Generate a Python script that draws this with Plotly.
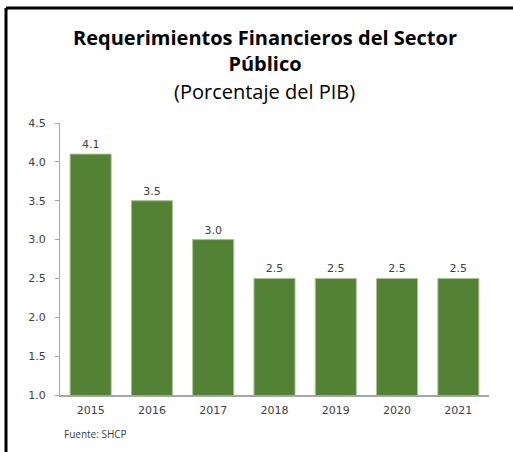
import plotly.graph_objects as go

# Requerimientos Financieros del Sector Público, % del PIB
years = ["2015", "2016", "2017", "2018", "2019", "2020", "2021"]
rfsp = [4.1, 3.5, 3.0, 2.5, 2.5, 2.5, 2.5]
y_ticks = [1.0, 1.5, 2.0, 2.5, 3.0, 3.5, 4.0, 4.5]

W, H = 513, 452
ML, MR, MT, MB = 60, 24, 123, 57
PW, PH = W - ML - MR, H - MT - MB


def px_x(px):
    return (px - ML) / PW


def px_y(py):
    return (H - MB - py) / PH


TITLE_FONT = "Open Sans"
TICK_FONT = "DejaVu Sans"
GREEN = "#548235"
GREY_TXT = "#404040"

fig = go.Figure(
    go.Bar(
        x=years,
        y=rfsp,
        marker=dict(color=GREEN, line=dict(color="#a9c196", width=1)),
        texttemplate="%{y:.1f}",
        textposition="outside",
        textfont=dict(family=TICK_FONT, size=11, color=GREY_TXT),
        cliponaxis=False,
    )
)

fig.update_layout(
    width=W,
    height=H,
    margin=dict(l=ML, r=MR, t=MT, b=MB),
    paper_bgcolor="white",
    plot_bgcolor="white",
    bargap=0.33,
    showlegend=False,
    font=dict(family=TICK_FONT, color=GREY_TXT),
    xaxis=dict(
        showline=True,
        linecolor="#a6a6a6",
        linewidth=2,
        ticks="",
        showgrid=False,
        tickfont=dict(family=TICK_FONT, size=11, color=GREY_TXT),
        ticklabelstandoff=4,
    ),
    yaxis=dict(
        range=[1.0, 4.5],
        tickvals=y_ticks,
        ticktext=[f"{v:.1f}" for v in y_ticks],
        showline=True,
        linecolor="#a6a6a6",
        linewidth=1,
        ticks="outside",
        ticklen=4,
        tickcolor="#a6a6a6",
        showgrid=False,
        zeroline=False,
        tickfont=dict(family=TICK_FONT, size=11, color=GREY_TXT),
        ticklabelstandoff=7,
    ),
    shapes=[
        dict(type="line", xref="paper", yref="paper",
             x0=px_x(6), x1=px_x(W + 2), y0=px_y(8), y1=px_y(8),
             line=dict(color="black", width=3)),
        dict(type="line", xref="paper", yref="paper",
             x0=px_x(6), x1=px_x(6), y0=px_y(8), y1=px_y(H + 2),
             line=dict(color="black", width=3)),
    ],
    annotations=[
        dict(text="<b>Requerimientos Financieros del Sector<br>Público</b>",
             xref="paper", yref="paper", x=px_x(265), y=px_y(22),
             xanchor="center", yanchor="top", showarrow=False,
             font=dict(family=TITLE_FONT, size=20, color="black", weight=600)),
        dict(text="(Porcentaje del PIB)",
             xref="paper", yref="paper", x=px_x(264), y=px_y(76),
             xanchor="center", yanchor="top", showarrow=False,
             font=dict(family=TITLE_FONT, size=20, color="black")),
        dict(text="Fuente: SHCP",
             xref="paper", yref="paper", x=px_x(62), y=px_y(434),
             xanchor="left", yanchor="middle", showarrow=False,
             font=dict(family=TITLE_FONT, size=10, color=GREY_TXT)),
    ],
)

fig.write_html("out.html")
